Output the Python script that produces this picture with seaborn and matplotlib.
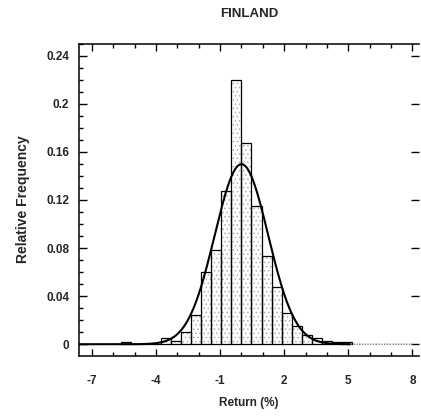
import numpy as np
import pandas as pd
import matplotlib
matplotlib.use("Agg")
import matplotlib.pyplot as plt
import seaborn as sns
from matplotlib.ticker import MultipleLocator, FuncFormatter

# ---- data ----
title = "FINLAND"
x_label = "Return (%)"
y_label = "Relative Frequency"
bin_width = 0.469
bin_index = list(range(-12, 11))
rel_freq = [0.002, 0.0, 0.0, 0.0, 0.005, 0.003, 0.0105, 0.024, 0.060, 0.078,
            0.127, 0.220, 0.167, 0.115, 0.073, 0.048, 0.026, 0.015, 0.008,
            0.005, 0.003, 0.002, 0.002]
fit_mean = 0.0
fit_sd = 1.25
x_ticks = [-7, -4, -1, 2, 5, 8]
y_ticks = [0, 0.04, 0.08, 0.12, 0.16, 0.2, 0.24]

sns.set_style("white")
plt.rcParams["font.family"] = ["Liberation Sans", "DejaVu Sans"]
plt.rcParams["font.weight"] = "bold"
plt.rcParams["axes.unicode_minus"] = False
plt.rcParams["hatch.linewidth"] = 0.6

edges = (np.array(bin_index + [bin_index[-1] + 1]) * bin_width).tolist()
centers = (np.array(bin_index) + 0.5) * bin_width
df = pd.DataFrame({"ret": centers, "freq": rel_freq})

fig = plt.figure(figsize=(4.21, 4.16), dpi=100)
ax = fig.add_axes([0.1876, 0.145, 0.995 - 0.1876, 0.8954 - 0.145])

# stippled fill
sns.histplot(data=df, x="ret", weights="freq", bins=edges, stat="count",
             color="white", edgecolor="#b0b0b0", linewidth=0, hatch="....",
             alpha=1, ax=ax)
# outlines
sns.histplot(data=df, x="ret", weights="freq", bins=edges, stat="count",
             fill=False, color="black", edgecolor="black", linewidth=0.9, ax=ax)

# fitted normal curve (scaled to bin width)
xs = np.linspace(-7.6, 8.0, 600)
ys = bin_width * np.exp(-0.5 * ((xs - fit_mean) / fit_sd) ** 2) / (fit_sd * np.sqrt(2 * np.pi))
solid = xs <= 5.1
sns.lineplot(x=xs[solid], y=ys[solid], color="black", linewidth=1.5, ax=ax)
sns.lineplot(x=xs[~solid], y=ys[~solid], color="#777777", linewidth=1.0,
             linestyle=(0, (1, 1)), ax=ax)

ax.set_xlim(-7.6, 8.3)
ax.set_ylim(-0.0095, 0.25)

ax.set_xticks(x_ticks)
ax.xaxis.set_minor_locator(MultipleLocator(1))
ax.set_yticks(y_ticks)
ax.yaxis.set_minor_locator(MultipleLocator(0.01))
ax.yaxis.set_major_formatter(FuncFormatter(lambda v, p: "%g" % round(v, 2)))
ax.xaxis.set_major_formatter(FuncFormatter(lambda v, p: "%g" % v))

ax.tick_params(axis="x", which="both", direction="in", top=True, bottom=True,
               labelsize=8.5, pad=14, color="black")
ax.tick_params(axis="x", which="major", length=5, width=1)
ax.tick_params(axis="x", which="minor", length=3, width=1)
ax.tick_params(axis="y", which="both", direction="in", left=True, right=True,
               labelsize=8.5, pad=7, color="black")
ax.tick_params(axis="y", which="major", length=6, width=1)
ax.tick_params(axis="y", which="minor", length=3, width=1)
ax.tick_params(axis="y", which="minor", right=False)

for side in ["left", "top", "bottom"]:
    ax.spines[side].set_visible(True)
    ax.spines[side].set_color("black")
    ax.spines[side].set_linewidth(1.1)
ax.spines["right"].set_visible(False)

ax.set_xlabel(x_label, fontsize=8.5, fontweight="bold", labelpad=7)
ax.set_ylabel(y_label, fontsize=10, fontweight="bold", labelpad=12)
ax.set_title(title, fontsize=9.5, fontweight="bold", pad=19)

fig.savefig("out.png", dpi=100)
